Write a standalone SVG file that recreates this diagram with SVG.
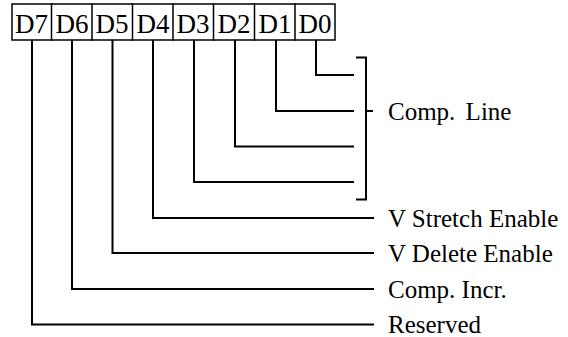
<svg xmlns="http://www.w3.org/2000/svg" width="568" height="337" viewBox="0 0 568 337">
<style>
.t{font-family:"Liberation Serif","Times New Roman",serif;font-size:25px;fill:#000}
.d{font-size:27px;text-anchor:middle}
.ln{fill:none;stroke:#000;stroke-width:2;stroke-linecap:square;stroke-linejoin:miter}
.bx{fill:#fff;stroke:#000;stroke-width:1.5}
</style>
<rect width="568" height="337" fill="#fff"/>
<g id="register">
<rect class="bx" x="12" y="4" width="323" height="36"/>
<path class="ln" style="stroke-width:1.5" d="M51.5 4V40M92 4V40M132.5 4V40M173 4V40M213.5 4V40M254.5 4V40M295 4V40"/>
</g>
<g id="bit-D7"><text class="t d" x="31.5" y="32.5">D7</text></g>
<g id="bit-D6"><text class="t d" x="72" y="32.5">D6</text></g>
<g id="bit-D5"><text class="t d" x="112" y="32.5">D5</text></g>
<g id="bit-D4"><text class="t d" x="153" y="32.5">D4</text></g>
<g id="bit-D3"><text class="t d" x="193" y="32.5">D3</text></g>
<g id="bit-D2"><text class="t d" x="234" y="32.5">D2</text></g>
<g id="bit-D1"><text class="t d" x="275" y="32.5">D1</text></g>
<g id="bit-D0"><text class="t d" x="315" y="32.5">D0</text></g>
<g id="connectors">
<path class="ln" d="M316 41V75H353"/>
<path class="ln" d="M276 41V111H353"/>
<path class="ln" d="M235 41V146.5H353"/>
<path class="ln" d="M194 41V182H353"/>
<path class="ln" d="M153 41V218H373"/>
<path class="ln" d="M112.5 41V253H373"/>
<path class="ln" d="M72 41V289H373"/>
<path class="ln" d="M32 41V324.5H373"/>
<path class="ln" d="M357 57.5H366V199.5H357M366 111H372"/>
</g>
<g id="label-comp-line"><text class="t" x="388" y="120" word-spacing="4">Comp. Line</text></g>
<g id="label-v-stretch"><text class="t" x="388" y="226.5">V Stretch Enable</text></g>
<g id="label-v-delete"><text class="t" x="388" y="262">V Delete Enable</text></g>
<g id="label-comp-incr"><text class="t" x="388" y="298">Comp. Incr.</text></g>
<g id="label-reserved"><text class="t" x="388" y="333">Reserved</text></g>
</svg>
